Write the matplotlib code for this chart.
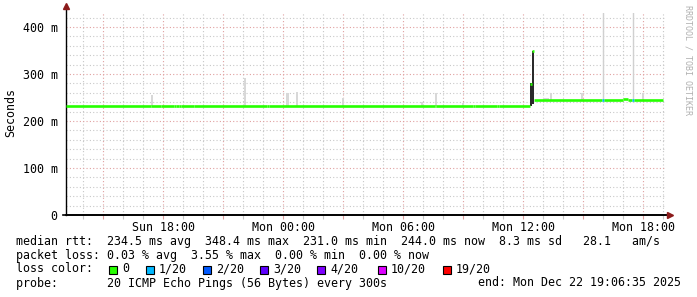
import matplotlib
matplotlib.use('Agg')
import matplotlib.pyplot as plt
from matplotlib.patches import Rectangle
from matplotlib.ticker import MultipleLocator

# time axis: hours since Sun 00:00
t_start = 13.15
t_end = 43.15

# median rtt (ms) as steps, med_t are the edges
med_t = [13.15, 17.385, 17.9, 18.565, 18.65, 18.8, 18.9, 19.55, 23.2, 23.28,
         31.58, 31.66, 33.5, 33.58, 34.7, 34.78, 36.35, 36.45, 36.55, 39.95,
         40.05, 41.0, 41.25, 41.45, 41.55, 43.0]
med_v = [233, 231, 233, 231, 233, 231, 233, 231, 233, 231,
         233, 231, 233, 231, 233, 231, 278, 348.4, 244, 244,
         244, 246, 244, 244, 244]
med_loss = [0, 0, 0, 0, 0, 0, 0, 0, 0, 0,
            0, 0, 0, 0, 0, 0, 0, 0, 0, 1,
            0, 0, 0, 1, 0]

# light smoke (ms)
smoke_t = [17.45, 22.1, 24.2, 24.7, 27.0, 30.95, 31.65, 33.0, 37.15, 37.4, 38.95, 42.0]
smoke_w = [0.1, 0.1, 0.15, 0.1, 0.08, 0.1, 0.12, 0.08, 0.3, 0.1, 0.1, 0.1]
smoke_lo = [231, 231, 231, 231, 231, 231, 231, 231, 244, 244, 244, 244]
smoke_hi = [255, 291, 260, 262, 250, 240, 259, 239, 249, 260, 260, 260]

# thin tall smoke lines
spike_t = [40.0, 41.5]
spike_hi = [440, 440]

# dark smoke at the jump
dark_t = [36.4, 36.5]
dark_lo = [233, 236]
dark_hi = [280, 349]

loss_labels = ['0', '1/20', '2/20', '3/20', '4/20', '10/20', '19/20']
loss_colors = ['#26ff00', '#00b8ff', '#0059ff', '#5e00ff', '#7e00ff', '#dd00ff', '#ff0000']

xtick_pos = [18, 24, 30, 36, 42]
xtick_lab = ['Sun 18:00', 'Mon 00:00', 'Mon 06:00', 'Mon 12:00', 'Mon 18:00']

mono = 'DejaVu Sans Mono'
fs = 8.4
W, H = 697, 297

fig = plt.figure(figsize=(W / 100, H / 100), dpi=100)
ax = fig.add_axes([66 / W, (H - 215) / H, 600 / W, 202 / H])

ax.set_xlim(t_start, t_end)
ax.set_ylim(0, 430)

# grid
ax.xaxis.set_minor_locator(MultipleLocator(1))
ax.yaxis.set_minor_locator(MultipleLocator(20))
ax.grid(which='minor', color='#c8c8c8', linestyle=(0, (1, 2)), linewidth=0.8)
ax.grid(which='major', color='#e0a0a0', linestyle=(0, (1, 2)), linewidth=0.8)
ax.set_axisbelow(True)

ax.bar(smoke_t, [h - l for h, l in zip(smoke_hi, smoke_lo)], width=smoke_w,
       bottom=smoke_lo, color='#d8d8d8', linewidth=0, zorder=2)
ax.vlines(spike_t, 240, spike_hi, color='#d0d0d0', linewidth=1.0, zorder=2)
ax.bar(dark_t, [h - l for h, l in zip(dark_hi, dark_lo)], width=0.1,
       bottom=dark_lo, color='#2a2a2a', linewidth=0, zorder=3)

for i in range(len(med_v)):
    ax.hlines(med_v[i], med_t[i], med_t[i + 1], color=loss_colors[med_loss[i]],
              linewidth=1.9, zorder=4)

# ticks and labels
ax.set_xticks([t for t in range(15, 43, 3)])
ax.set_xticklabels([xtick_lab[xtick_pos.index(t)] if t in xtick_pos else ''
                    for t in range(15, 43, 3)], fontfamily=mono, fontsize=fs)
ax.set_yticks([0, 100, 200, 300, 400])
ax.set_yticklabels(['0', '100 m', '200 m', '300 m', '400 m'], fontfamily=mono, fontsize=fs)
ax.tick_params(axis='x', which='major', length=3, width=0.8, color='#e0a0a0', pad=1)
ax.tick_params(axis='x', which='minor', length=3, width=0.8, color='#c8c8c8')
ax.tick_params(axis='y', which='both', length=0, pad=6)
fig.text(11 / W, 1 - 113 / H, 'Seconds', fontfamily=mono, fontsize=fs,
         rotation=90, ha='center', va='center')

for s in ['top', 'right']:
    ax.spines[s].set_visible(False)
ax.spines['left'].set_linewidth(1)
ax.spines['bottom'].set_linewidth(1.2)
ax.spines['left'].set_bounds(0, 440)
ax.plot([t_end + 0.2], [0], marker='>', color='#8b1a1a', markersize=4,
        clip_on=False, zorder=6)
ax.plot([t_start], [445], marker='^', color='#8b1a1a', markersize=4,
        clip_on=False, zorder=6)
ax.plot([t_start - 0.15, t_end + 0.1], [0, 0], color='black', linewidth=1.2,
        clip_on=False, zorder=5)

# legend text
def ftext(x, y, s, **kw):
    fig.text(x / W, 1 - y / H, s, fontfamily=mono, fontsize=fs, va='center', **kw)

ftext(16, 241, 'median rtt:  234.5 ms avg  348.4 ms max  231.0 ms min  244.0 ms now  8.3 ms sd   28.1   am/s')
ftext(16, 255, 'packet loss: 0.03 % avg  3.55 % max  0.00 % min  0.00 % now')
ftext(16, 269, 'loss color:')
sq_x = [109, 146, 203, 260, 317, 378, 443]
for x, lab, c in zip(sq_x, loss_labels, loss_colors):
    fig.patches.append(Rectangle((x / W, 1 - 273.5 / H), 8 / W, 8 / H,
                                 transform=fig.transFigure, facecolor=c,
                                 edgecolor='black', linewidth=0.8))
    ftext(x + 13, 269, lab)
ftext(16, 283, 'probe:       20 ICMP Echo Pings (56 Bytes) every 300s')
ftext(681, 283, 'end: Mon Dec 22 19:06:35 2025', ha='right')

fig.text(688 / W, 1 - 5 / H, 'RRDTOOL / TOBI OETIKER', fontfamily=mono, fontsize=6,
         color='#b0b0b0', rotation=270, ha='center', va='top')

fig.savefig('out.png', dpi=100, facecolor='white')
